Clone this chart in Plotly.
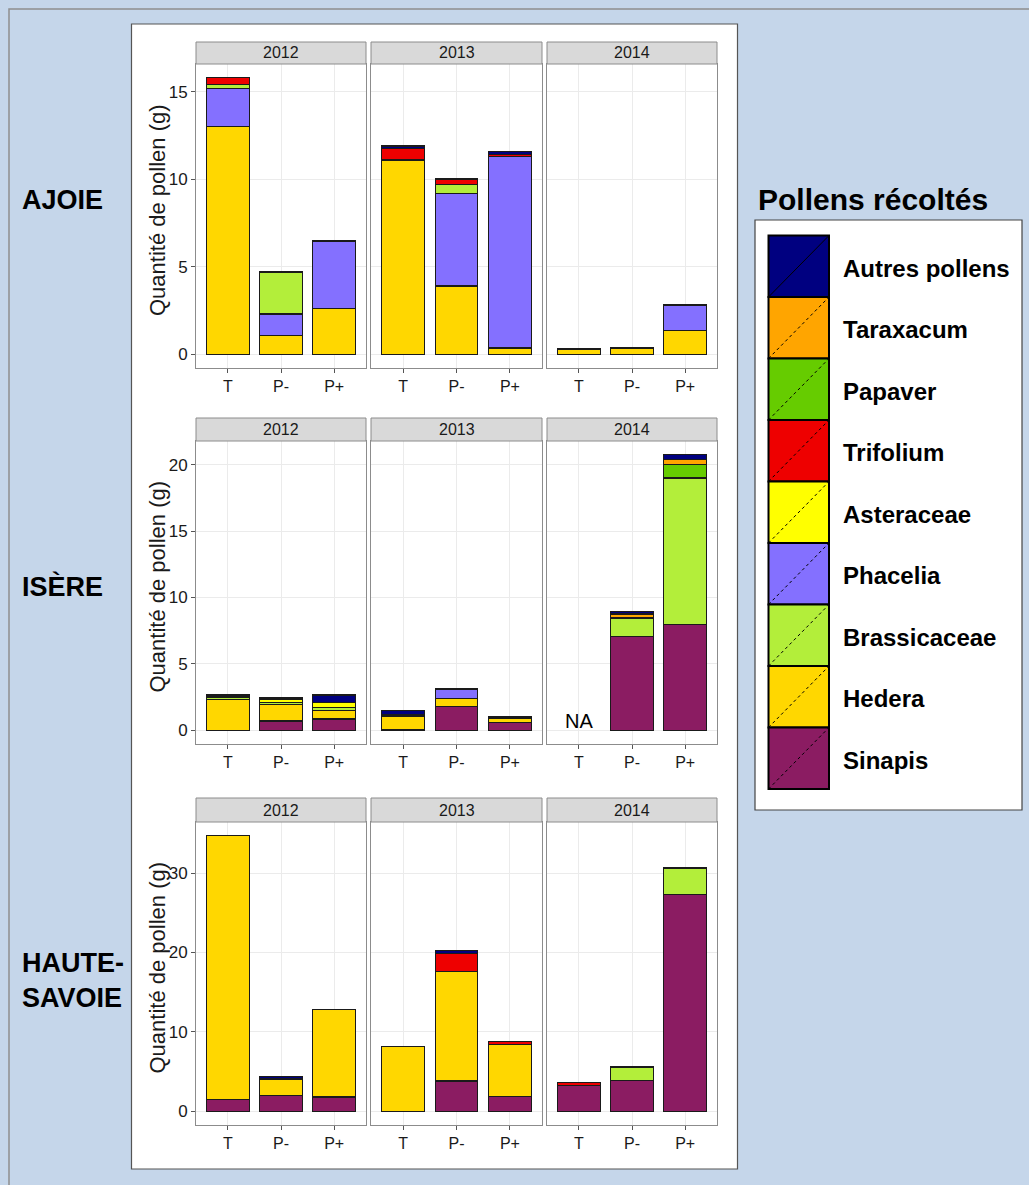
import plotly.graph_objects as go

# ---- categories -------------------------------------------------------
sites = ["AJOIE", "ISÈRE", "HAUTE-SAVOIE"]
site_labels = ["AJOIE", "ISÈRE", "HAUTE-<br>SAVOIE"]
years = ["2012", "2013", "2014"]
treatments = ["T", "P-", "P+"]

# stacking order, bottom to top
pollens = ["Sinapis", "Hedera", "Phacelia", "Brassicaceae", "Asteraceae",
           "Trifolium", "Papaver", "Taraxacum", "Autres pollens"]
# legend order, top to bottom
legend_order = ["Autres pollens", "Taraxacum", "Papaver", "Trifolium",
                "Asteraceae", "Phacelia", "Brassicaceae", "Hedera", "Sinapis"]
pollen_colors = {
    "Autres pollens": "#000080",
    "Taraxacum": "#FFA500",
    "Papaver": "#66CC00",
    "Trifolium": "#EE0000",
    "Asteraceae": "#FFFF00",
    "Phacelia": "#8470FF",
    "Brassicaceae": "#B3EE3A",
    "Hedera": "#FFD700",
    "Sinapis": "#8B1C62",
}

# ---- values (g); order: 2012 T,P-,P+ | 2013 T,P-,P+ | 2014 T,P-,P+ ----
ajoie_sinapis = [0, 0, 0, 0, 0, 0, 0, 0, 0]
ajoie_hedera = [13.0, 1.05, 2.6, 11.1, 3.9, 0.35, 0.3, 0.35, 1.35]
ajoie_phacelia = [2.2, 1.25, 3.85, 0, 5.3, 10.95, 0, 0, 1.45]
ajoie_brassicaceae = [0.2, 2.35, 0, 0, 0.5, 0, 0, 0, 0]
ajoie_asteraceae = [0, 0, 0, 0, 0, 0, 0, 0, 0]
ajoie_trifolium = [0.4, 0, 0, 0.65, 0.3, 0.12, 0, 0, 0]
ajoie_papaver = [0, 0, 0, 0, 0, 0, 0, 0, 0]
ajoie_taraxacum = [0, 0, 0, 0, 0, 0, 0, 0, 0]
ajoie_autres = [0, 0.08, 0.06, 0.15, 0.06, 0.18, 0, 0.05, 0.05]

isere_sinapis = [0, 0.7, 0.85, 0.08, 1.8, 0.6, 0, 7.05, 7.95]
isere_hedera = [2.3, 1.25, 0.65, 0.95, 0.6, 0.3, 0, 0, 0]
isere_phacelia = [0, 0, 0, 0, 0.7, 0, 0, 0, 0]
isere_brassicaceae = [0.2, 0.15, 0.2, 0.12, 0, 0, 0, 1.4, 11.05]
isere_asteraceae = [0, 0.25, 0.4, 0, 0, 0, 0, 0, 0]
isere_trifolium = [0, 0, 0, 0, 0, 0, 0, 0, 0]
isere_papaver = [0.15, 0.1, 0, 0, 0, 0, 0, 0, 1.0]
isere_taraxacum = [0, 0, 0, 0, 0, 0, 0, 0.3, 0.4]
isere_autres = [0, 0, 0.55, 0.35, 0, 0.1, 0, 0.2, 0.35]

savoie_sinapis = [1.5, 2.0, 1.8, 0, 3.8, 1.9, 3.25, 3.9, 27.35]
savoie_hedera = [33.2, 2.05, 11.0, 8.2, 13.8, 6.55, 0, 0, 0]
savoie_phacelia = [0, 0, 0, 0, 0, 0, 0, 0, 0]
savoie_brassicaceae = [0, 0, 0, 0, 0, 0, 0, 1.65, 3.25]
savoie_asteraceae = [0, 0, 0, 0, 0, 0, 0, 0, 0]
savoie_trifolium = [0, 0, 0, 0, 2.25, 0.35, 0.4, 0, 0]
savoie_papaver = [0, 0, 0, 0, 0, 0, 0, 0, 0]
savoie_taraxacum = [0, 0, 0, 0, 0, 0, 0, 0, 0]
savoie_autres = [0, 0.3, 0, 0, 0.4, 0, 0, 0.1, 0.15]

# missing observations: (site, year, treatment)
missing = [("ISÈRE", "2014", "T")]

site_data = {
    "AJOIE": dict(zip(pollens, [ajoie_sinapis, ajoie_hedera, ajoie_phacelia,
                                ajoie_brassicaceae, ajoie_asteraceae, ajoie_trifolium,
                                ajoie_papaver, ajoie_taraxacum, ajoie_autres])),
    "ISÈRE": dict(zip(pollens, [isere_sinapis, isere_hedera, isere_phacelia,
                                isere_brassicaceae, isere_asteraceae, isere_trifolium,
                                isere_papaver, isere_taraxacum, isere_autres])),
    "HAUTE-SAVOIE": dict(zip(pollens, [savoie_sinapis, savoie_hedera, savoie_phacelia,
                                       savoie_brassicaceae, savoie_asteraceae, savoie_trifolium,
                                       savoie_papaver, savoie_taraxacum, savoie_autres])),
}
y_dticks = [5, 5, 10]

# ---- page geometry (pixels) ------------------------------------------
W, H = 1029, 1185
FONT = "Liberation Sans, Arial, sans-serif"
col_px = [(196, 366), (371, 542), (547, 717)]
row_px = [  # (strip top, strip bottom / plot top, plot bottom)
    (42, 64, 368),
    (418, 441, 744),
    (798, 822, 1125),
]


def px_x(v):
    return v / W


def px_y(v):
    return 1 - v / H


fig = go.Figure()
layout = {}
shapes = []
annotations = []

# background panels
shapes.append(dict(type="rect", xref="paper", yref="paper", layer="below",
                   x0=px_x(9), x1=px_x(1060), y0=px_y(9), y1=px_y(1220),
                   line=dict(color="#8f8f8f", width=1.5), fillcolor="#C5D6EA"))
shapes.append(dict(type="rect", xref="paper", yref="paper", layer="below",
                   x0=px_x(131.5), x1=px_x(737.5), y0=px_y(24), y1=px_y(1169),
                   line=dict(color="#555555", width=1.2), fillcolor="white"))

for r, site in enumerate(sites):
    data = site_data[site]
    totals = [sum(data[p][i] for p in pollens) for i in range(9)]
    ymax = max(totals)
    strip_top, plot_top, plot_bot = row_px[r]
    for c, year in enumerate(years):
        n = r * 3 + c + 1
        xa = "x" if n == 1 else f"x{n}"
        ya = "y" if n == 1 else f"y{n}"
        for p in pollens:
            vals = data[p][c * 3:(c + 1) * 3]
            fig.add_trace(go.Bar(
                x=treatments, y=[v if v > 0 else None for v in vals],
                xaxis=xa, yaxis=ya, name=p, width=0.8, showlegend=False,
                marker=dict(color=pollen_colors[p], line=dict(color="#1a1a1a", width=1.2)),
                hovertemplate=f"{p}: %{{y}} g<extra></extra>",
            ))
        x0, x1 = col_px[c]
        layout["xaxis" if n == 1 else f"xaxis{n}"] = dict(
            domain=[px_x(x0), px_x(x1)], anchor=ya, type="category",
            categoryorder="array", categoryarray=treatments, range=[-0.6, 2.6],
            showgrid=True, gridcolor="#EBEBEB", gridwidth=1, zeroline=False,
            showline=True, mirror=True, linecolor="#8c8c8c", linewidth=1,
            ticks="outside", ticklen=4, tickcolor="#555555",
            tickfont=dict(family=FONT, size=16, color="#1a1a1a"),
        )
        layout["yaxis" if n == 1 else f"yaxis{n}"] = dict(
            domain=[px_y(plot_bot), px_y(plot_top)], anchor=xa,
            range=[-0.05 * ymax, 1.05 * ymax], tick0=0, dtick=y_dticks[r],
            showgrid=True, gridcolor="#EBEBEB", gridwidth=1, zeroline=False,
            showline=True, mirror=True, linecolor="#8c8c8c", linewidth=1,
            showticklabels=(c == 0), ticks="outside" if c == 0 else "",
            ticklen=4, tickcolor="#555555",
            tickfont=dict(family=FONT, size=17, color="#1a1a1a"),
        )
        # facet strip
        shapes.append(dict(type="rect", xref="paper", yref="paper",
                           x0=px_x(x0), x1=px_x(x1), y0=px_y(plot_top), y1=px_y(strip_top),
                           fillcolor="#D9D9D9", line=dict(color="#8c8c8c", width=1)))
        annotations.append(dict(xref="paper", yref="paper", x=px_x((x0 + x1) / 2),
                                y=px_y((strip_top + plot_top) / 2), text=year,
                                showarrow=False, xanchor="center", yanchor="middle",
                                font=dict(family=FONT, size=16, color="#1a1a1a")))
        for (ms, my, mt) in missing:
            if ms == site and my == year:
                annotations.append(dict(xref=xa, yref=ya, x=mt, y=0, text="NA",
                                        showarrow=False, yanchor="bottom", yshift=-4,
                                        font=dict(family=FONT, size=20, color="black")))
    # y-axis title for the row
    annotations.append(dict(xref="paper", yref="paper", x=px_x(157),
                            y=px_y((plot_top + plot_bot) / 2 - 6),
                            text="Quantité de pollen (g)", textangle=-90, showarrow=False,
                            xanchor="center", yanchor="middle",
                            font=dict(family=FONT, size=22, color="#1a1a1a")))

# site labels
site_label_y = [200, 586, 980]
for lab, yy in zip(site_labels, site_label_y):
    annotations.append(dict(xref="paper", yref="paper", x=px_x(20), y=px_y(yy),
                            text=f"<b>{lab}</b>", showarrow=False, xanchor="left",
                            yanchor="middle", align="left",
                            font=dict(family=FONT, size=27, color="black")))

# legend
annotations.append(dict(xref="paper", yref="paper", x=px_x(756), y=px_y(200),
                        text="<b>Pollens récoltés</b>", showarrow=False, xanchor="left",
                        yanchor="middle", font=dict(family=FONT, size=30, color="black")))
shapes.append(dict(type="rect", xref="paper", yref="paper",
                   x0=px_x(755), x1=px_x(1022), y0=px_y(220), y1=px_y(810),
                   fillcolor="white", line=dict(color="#444444", width=1.2), layer="below"))
key_top, key_h = 235.5, 61.5
kx0, kx1 = 768.5, 829
for i, p in enumerate(legend_order):
    t = key_top + i * key_h
    b = t + key_h
    shapes.append(dict(type="rect", xref="paper", yref="paper",
                       x0=px_x(kx0), x1=px_x(kx1), y0=px_y(b), y1=px_y(t),
                       fillcolor=pollen_colors[p], line=dict(color="black", width=2)))
    shapes.append(dict(type="line", xref="paper", yref="paper",
                       x0=px_x(kx0), x1=px_x(kx1), y0=px_y(b), y1=px_y(t),
                       line=dict(color="black", width=1,
                                 dash="solid" if i == 0 else "dot")))
    annotations.append(dict(xref="paper", yref="paper", x=px_x(841), y=px_y(t + key_h / 2 + 2),
                            text=f"<b>{p}</b>", showarrow=False, xanchor="left",
                            yanchor="middle", font=dict(family=FONT, size=24, color="black")))

fig.update_layout(
    width=W, height=H, autosize=False,
    margin=dict(l=0, r=0, t=0, b=0),
    paper_bgcolor="#C5D6EA", plot_bgcolor="white",
    barmode="stack", bargap=0.2, showlegend=False,
    shapes=shapes, annotations=annotations,
    font=dict(family=FONT),
    **layout,
)

fig.write_html("out.html")
